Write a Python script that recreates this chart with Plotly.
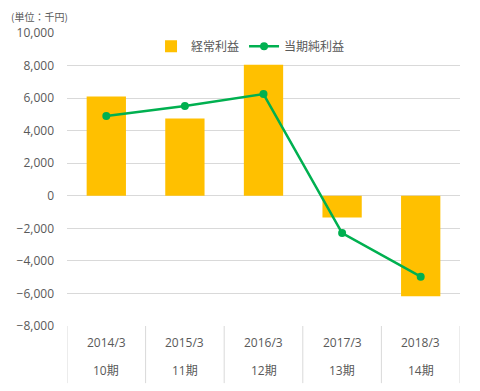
import plotly.graph_objects as go

periods = ["2014/3", "2015/3", "2016/3", "2017/3", "2018/3"]
terms = ["10期", "11期", "12期", "13期", "14期"]
ordinary_profit = [6100, 4750, 8050, -1330, -6180]
net_profit = [4900, 5520, 6250, -2290, -4970]
y_ticks = [10000, 8000, 6000, 4000, 2000, 0, -2000, -4000, -6000, -8000]

FONT = "Open Sans, Noto Sans CJK JP"
GRAY = "#595959"
GRID = "#D9D9D9"

fig = go.Figure()
fig.add_trace(go.Bar(x=periods, y=ordinary_profit, name="経常利益",
                     marker=dict(color="#FFC000", line=dict(width=0)), width=0.5))
fig.add_trace(go.Scatter(x=periods, y=net_profit, name="当期純利益", mode="lines+markers",
                         line=dict(color="#00B050", width=2.5),
                         marker=dict(color="#00B050", size=8)))

# category dividers below the plot
for i in range(len(periods) + 1):
    fig.add_shape(type="line", xref="x", yref="paper", x0=i - 0.5, x1=i - 0.5,
                  y0=0, y1=-0.195, line=dict(color=GRID, width=1))

for p, t in zip(periods, terms):
    fig.add_annotation(x=p, y=-0.058, xref="x", yref="paper", text=p, showarrow=False,
                       font=dict(size=12, color=GRAY, family=FONT), yanchor="middle")
    fig.add_annotation(x=p, y=-0.152, xref="x", yref="paper", text=t, showarrow=False,
                       font=dict(size=12, color=GRAY, family=FONT), yanchor="middle")

fig.add_annotation(x=-0.147, y=1.055, xref="paper", yref="paper", text="(単位：千円)",
                   showarrow=False, xanchor="left", yanchor="middle",
                   font=dict(size=10, color=GRAY, family="Noto Sans CJK JP"))

fig.update_layout(
    width=480, height=391,
    margin=dict(l=59, r=28, t=25, b=73),
    paper_bgcolor="white", plot_bgcolor="white",
    font=dict(family=FONT, color=GRAY, size=12),
    bargap=0.5,
    showlegend=True,
    legend=dict(orientation="h", x=0.467, xanchor="center", y=0.955, yanchor="middle",
                font=dict(size=12, color=GRAY, family="Noto Sans CJK JP"),
                bgcolor="rgba(0,0,0,0)", itemwidth=30),
    xaxis=dict(type="category", range=[-0.5, 4.5], showticklabels=False, showgrid=False,
               zeroline=False, showline=False, ticks=""),
    yaxis=dict(range=[-8000, 10000], tickvals=y_ticks, tickformat=",d",
               showgrid=True, gridcolor=GRID, gridwidth=1, zeroline=True,
               zerolinecolor=GRID, zerolinewidth=1, showline=False, ticks="",
               automargin=False,
               ticklabelstandoff=12, tickfont=dict(size=12, color=GRAY, family=FONT)),
)

fig.write_html("out.html")
